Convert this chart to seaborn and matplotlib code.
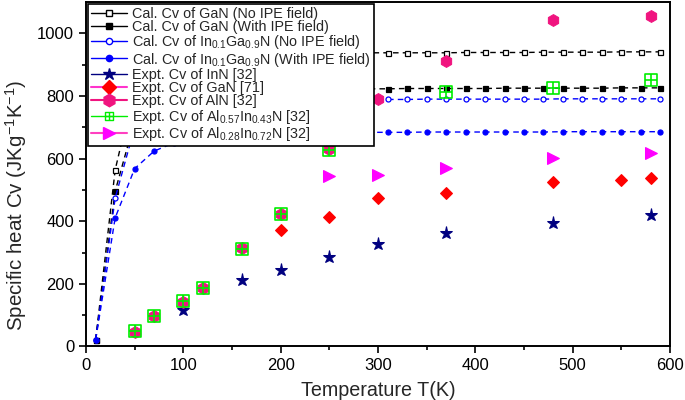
import numpy as np
import pandas as pd
import matplotlib
matplotlib.use("Agg")
import matplotlib.pyplot as plt
from matplotlib.path import Path
from matplotlib.lines import Line2D
import seaborn as sns

# --- data ---
calc_T = list(range(10, 600, 20))
gan_no_ipe = [22, 564, 830, 895, 918, 928, 932, 934, 935, 936, 936, 937, 937, 937, 938,
              938, 938, 938, 938, 939, 939, 939, 939, 940, 940, 940, 940, 941, 941, 941]
gan_ipe = [22, 496, 720, 780, 802, 812, 817, 819, 820, 821, 822, 822, 823, 823, 823,
           823, 824, 824, 824, 824, 824, 825, 825, 825, 825, 825, 825, 826, 826, 826]
ingan_no_ipe = [22, 474, 700, 750, 770, 778, 782, 785, 786, 787, 788, 788, 789, 789, 789,
                789, 789, 790, 790, 790, 790, 790, 790, 790, 791, 791, 791, 791, 791, 791]
ingan_ipe = [22, 411, 568, 624, 650, 664, 671, 675, 678, 680, 681, 682, 683, 683, 684,
             684, 684, 685, 685, 685, 685, 685, 685, 685, 686, 686, 686, 686, 686, 686]

inn_T = [100, 160, 200, 250, 300, 370, 480, 580]
inn_cv = [115, 213, 244, 285, 327, 363, 395, 421]

gan_T = [200, 250, 300, 370, 480, 550, 580]
gan_cv = [372, 413, 475, 489, 525, 531, 537]

aln_T = [50, 70, 100, 120, 160, 200, 250, 300, 370, 480, 580]
aln_cv = [45, 97, 143, 186, 314, 423, 630, 790, 912, 1042, 1057]

al57_T = [50, 70, 100, 120, 160, 200, 250, 370, 480, 580]
al57_cv = [49, 97, 145, 186, 311, 423, 626, 814, 827, 851]

al28_T = [250, 300, 370, 480, 580]
al28_cv = [545, 549, 569, 603, 619]

labels = [
    "Cal. Cv of GaN (No IPE field)",
    "Cal. Cv of GaN (With IPE field)",
    r"Cal. Cv of In$_{0.1}$Ga$_{0.9}$N (No IPE field)",
    r"Cal. Cv of In$_{0.1}$Ga$_{0.9}$N (With IPE field)",
    "Expt. Cv of InN [32]",
    "Expt. Cv of GaN [71]",
    "Expt. Cv of AlN [32]",
    r"Expt. Cv of Al$_{0.57}$In$_{0.43}$N [32]",
    r"Expt. Cv of Al$_{0.28}$In$_{0.72}$N [32]",
]

sns.set_theme(style="ticks")
plt.rcParams["font.family"] = ["Liberation Sans", "DejaVu Sans"]
plt.rcParams["mathtext.fontset"] = "custom"
plt.rcParams["mathtext.rm"] = "Liberation Sans"
plt.rcParams["mathtext.it"] = "Liberation Sans:italic"
plt.rcParams["mathtext.default"] = "regular"

# square with a cross inside (Origin style)
box_cross = Path(
    [(-1, -1), (1, -1), (1, 1), (-1, 1), (-1, -1), (0, -1), (0, 1), (-1, 0), (1, 0)],
    [Path.MOVETO, Path.LINETO, Path.LINETO, Path.LINETO, Path.CLOSEPOLY,
     Path.MOVETO, Path.LINETO, Path.MOVETO, Path.LINETO],
)

fig = plt.figure(figsize=(6.85, 4.0), dpi=100)
ax = fig.add_axes([0.1255, 0.1338, 0.8526, 0.861])

dash = (0, (4, 3))
calc = [
    (gan_no_ipe, "black", "s", "white"),
    (gan_ipe, "black", "s", "black"),
    (ingan_no_ipe, "#0000FF", "o", "white"),
    (ingan_ipe, "#0000FF", "o", "#0000FF"),
]
for vals, col, mk, fc in calc:
    df = pd.DataFrame({"T": calc_T, "Cv": vals})
    sns.lineplot(data=df, x="T", y="Cv", ax=ax, color=col, linestyle=dash, linewidth=1.0,
                 marker=mk, markersize=3.6, markerfacecolor=fc, markeredgecolor=col,
                 markeredgewidth=0.9, sort=False, legend=False)

expt = [
    (inn_T, inn_cv, "#000080", "*", "#000080", 9.5),
    (gan_T, gan_cv, "#FF0000", "D", "#FF0000", 6.5),
    (aln_T, aln_cv, "#F0147F", "h", "#F0147F", 8.5),
    (al28_T, al28_cv, "#FF00FF", ">", "#FF00FF", 8.0),
]
for tt, cc, col, mk, fc, ms in expt:
    df = pd.DataFrame({"T": tt, "Cv": cc})
    sns.lineplot(data=df, x="T", y="Cv", ax=ax, color=col, linestyle="none",
                 marker=mk, markersize=ms, markerfacecolor=fc, markeredgecolor=col,
                 sort=False, legend=False)

df = pd.DataFrame({"T": al57_T, "Cv": al57_cv})
sns.lineplot(data=df, x="T", y="Cv", ax=ax, color="#00EE00", linestyle="none",
             marker=box_cross, markersize=9, markerfacecolor="none",
             markeredgecolor="#00EE00", markeredgewidth=1.2, sort=False, legend=False)

ax.set_xlim(0, 600)
ax.set_ylim(0, 1100)
ax.set_xticks(range(0, 601, 100))
ax.set_xticks(range(50, 600, 100), minor=True)
ax.set_yticks(range(0, 1001, 200))
ax.set_yticks(range(100, 1100, 200), minor=True)
ax.tick_params(which="major", length=5, width=1.2, labelsize=12, direction="out",
               color="black", labelcolor="black")
ax.tick_params(which="minor", length=3, width=1.2, direction="out", color="black")
for sp in ax.spines.values():
    sp.set_visible(True)
    sp.set_linewidth(1.4)
    sp.set_color("black")

ax.set_xlabel("Temperature T(K)", fontsize=14.2)
ax.set_ylabel(r"Specific heat Cv (JKg$^{-1}$K$^{-1}$)", fontsize=14.8)
ax.xaxis.set_label_coords(0.5, -0.1)
ax.yaxis.set_label_coords(-0.097, 0.41)

handles = [
    Line2D([], [], color="black", marker="s", ms=4.5, mfc="white", mec="black", lw=1.0),
    Line2D([], [], color="black", marker="s", ms=4.5, mfc="black", mec="black", lw=1.0),
    Line2D([], [], color="#0000FF", marker="o", ms=4.5, mfc="white", mec="#0000FF", lw=1.0),
    Line2D([], [], color="#0000FF", marker="o", ms=4.5, mfc="#0000FF", mec="#0000FF", lw=1.0),
    Line2D([], [], color="#000080", marker="*", ms=9, mfc="#000080", mec="#000080", lw=1.0),
    Line2D([], [], color="#FF33CC", marker="D", ms=7, mfc="#FF0000", mec="#FF0000", lw=1.5),
    Line2D([], [], color="#F0147F", marker="h", ms=9, mfc="#F0147F", mec="#F0147F", lw=1.5),
    Line2D([], [], color="#00EE00", marker=box_cross, ms=6, mfc="none", mec="#00EE00",
           mew=1.0, lw=1.0),
    Line2D([], [], color="#FF40C0", marker=">", ms=8, mfc="#FF00FF", mec="#FF00FF", lw=1.5),
]
leg = ax.legend(handles, labels, loc="upper left", bbox_to_anchor=(0.003, 0.995),
                borderaxespad=0, fontsize=10.4, handlelength=2.5, handletextpad=0.4,
                labelspacing=-0.05, borderpad=0.2, fancybox=False, framealpha=1)
leg.get_frame().set_edgecolor("black")
leg.get_frame().set_linewidth(1.2)
leg.set_zorder(5)

fig.savefig("out.png", dpi=100)
